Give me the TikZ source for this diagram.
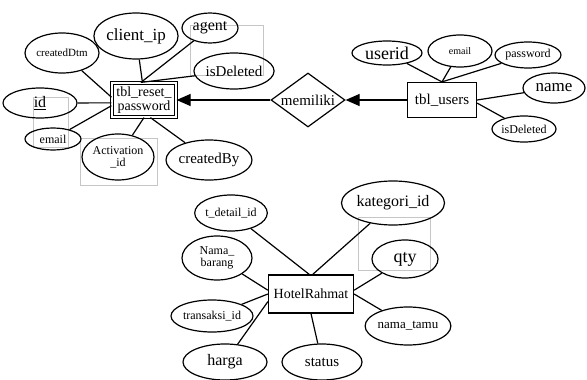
\documentclass[tikz,border=0pt]{standalone}
\usepackage{fontspec}
\setmainfont{Liberation Serif}
\usetikzlibrary{shapes.geometric,arrows.meta}
\newcommand{\fsz}[1]{\fontsize{#1}{#1}\selectfont}
\begin{document}
\begin{tikzpicture}[x=1pt,y=-1pt,line width=1.2pt,
    attr/.style={ellipse,draw,inner sep=0pt},
    entity/.style={rectangle,draw,inner sep=0pt,align=center},
    rel/.style={diamond,draw,inner sep=0pt,aspect=1.4},
    ghost/.style={draw=gray!45,line width=0.5pt}]
        \useasboundingbox (0,0) rectangle (587,380);
        \draw[ghost] (190,25) rectangle (263,75);
        \draw[ghost] (33,97) rectangle (68,147);
        \draw[ghost] (80,138) rectangle (157,185);
        \draw[ghost] (358,217) rectangle (430,270);
        \node[entity,double,double distance=1.2pt,minimum width=64pt,minimum height=34pt,font=\fsz{14}] (rp) at (144,100) {tbl\_reset\_\\password};
        \node[attr,minimum width=72pt,minimum height=46pt,font=\fsz{17}] (ci) at (136,36) {client\_ip};
        \node[attr,minimum width=56pt,minimum height=30pt,font=\fsz{16}] (ag) at (210,28) {agent};
        \node[attr,minimum width=74pt,minimum height=36pt,font=\fsz{15}] (isd) at (234,71) {isDeleted};
        \node[attr,minimum width=74pt,minimum height=40pt,font=\fsz{11}] (cdt) at (62,53) {createdDtm};
        \node[attr,minimum width=74pt,minimum height=30pt,font=\fsz{16}] (id) at (40,103) {\underline{id}};
        \node[attr,minimum width=56pt,minimum height=22pt,font=\fsz{12}] (em) at (53,139) {email};
        \node[attr,minimum width=72pt,minimum height=46pt,font=\fsz{12},align=center] (act) at (118,157) {Activation\\\_id};
        \node[attr,minimum width=72pt,minimum height=40pt,font=\fsz{15}] (cby) at (209,160) {createdBy};
        \node[rel,minimum width=74pt,minimum height=54pt,font=\fsz{15}] (mem) at (308,100) {memiliki};
        \node[entity,minimum width=69pt,minimum height=35pt,font=\fsz{15}] (tu) at (442,100) {tbl\_users};
        \node[attr,minimum width=70pt,minimum height=24pt,font=\fsz{18}] (uid) at (387,53) {userid};
        \node[attr,minimum width=64pt,minimum height=32pt,font=\fsz{10}] (uem) at (460,51) {email};
        \node[attr,minimum width=66pt,minimum height=26pt,font=\fsz{12}] (upw) at (528,55) {password};
        \node[attr,minimum width=62pt,minimum height=30pt,font=\fsz{17}] (unm) at (554,88) {name};
        \node[attr,minimum width=64pt,minimum height=26pt,font=\fsz{12}] (uisd) at (524,129) {isDeleted};
        \node[entity,minimum width=85pt,minimum height=38pt,font=\fsz{14}] (hr) at (311,294) {HotelRahmat};
        \node[attr,minimum width=66pt,minimum height=36pt,font=\fsz{12}] (tdi) at (231,213) {t\_detail\_id};
        \node[attr,minimum width=80pt,minimum height=44pt,font=\fsz{16}] (kat) at (393,203) {kategori\_id};
        \node[attr,minimum width=70pt,minimum height=44pt,font=\fsz{12},align=center] (nb) at (217,258) {Nama\_\\barang};
        \node[attr,minimum width=66pt,minimum height=38pt,font=\fsz{18}] (qty) at (405,259) {qty};
        \node[attr,minimum width=76pt,minimum height=32pt,font=\fsz{12}] (tid) at (212,316) {transaksi\_id};
        \node[attr,minimum width=72pt,minimum height=38pt,font=\fsz{13}] (nt) at (408,326) {nama\_tamu};
        \node[attr,minimum width=84pt,minimum height=36pt,font=\fsz{16}] (hg) at (225,362) {harga};
        \node[attr,minimum width=80pt,minimum height=36pt,font=\fsz{15}] (st) at (322,362) {status};
        \draw (ci) -- (rp.95);
        \draw (ag) -- (rp.100);
        \draw (isd) -- (rp.100);
        \draw (cdt) -- (rp.175);
        \draw (id) -- (rp.185);
        \draw (em) -- (rp.190);
        \draw (act) -- (rp.south);
        \draw (cby) -- (rp.-70);
        \draw[-{Triangle[length=14pt,width=12pt]}] (mem) -- (rp);
        \draw[-{Triangle[length=14pt,width=12pt]}] (tu) -- (mem);
        \draw (uid) -- (tu.north);
        \draw (uem) -- (tu.north);
        \draw (upw) -- (tu.north);
        \draw (unm) -- (tu.east);
        \draw (uisd) -- (tu.-5);
        \draw (tdi) -- (hr.95);
        \draw (kat) -- (hr.85);
        \draw (nb) -- (hr.175);
        \draw (tid) -- (hr.west);
        \draw (hg) -- (hr.190);
        \draw (st) -- (hr.south);
        \draw (qty) -- (hr.5);
        \draw (nt) -- (hr.east);
      \end{tikzpicture}
\end{document}
